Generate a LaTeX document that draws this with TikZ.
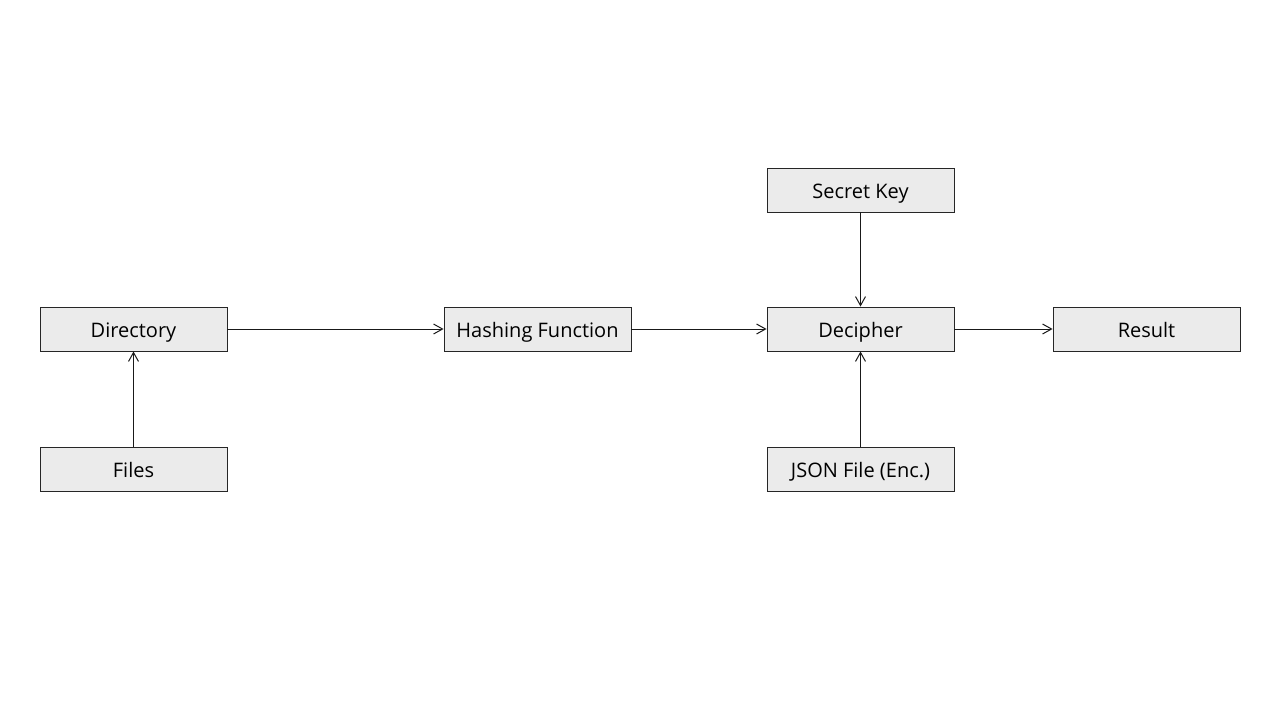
\documentclass[tikz,border=0pt]{standalone}
\usepackage{fontspec}
\setmainfont{Open Sans}
\usetikzlibrary{arrows.meta}
\begin{document}
\begin{tikzpicture}[x=1pt,y=1pt,
  box/.style={draw=black!85,line width=0.9pt,fill=black!8,minimum width=187pt,minimum height=44pt,inner sep=0pt,text height=17pt,text depth=0pt,font=\fontsize{20}{24}\selectfont},
  conn/.style={draw=black!90,line width=1pt,-{Straight Barb[length=9pt,width=10pt,line width=1pt]}}]
\useasboundingbox (0,0) rectangle (1280,-720);
\node[box] (dir) at (133.5,-329) {Directory};
\node[box] (files) at (133.5,-469) {Files};
\node[box] (hash) at (537.5,-329) {Hashing Function};
\node[box] (dec) at (860.5,-329) {Decipher};
\node[box] (key) at (860.5,-190) {Secret Key};
\node[box] (json) at (860.5,-469) {JSON File (Enc.)};
\node[box] (res) at (1146.5,-329) {Result};
\draw[conn] (files) -- (dir);
\draw[conn] (dir) -- (hash);
\draw[conn] (hash) -- (dec);
\draw[conn] (key) -- (dec);
\draw[conn] (json) -- (dec);
\draw[conn] (dec) -- (res);
\end{tikzpicture}
\end{document}
